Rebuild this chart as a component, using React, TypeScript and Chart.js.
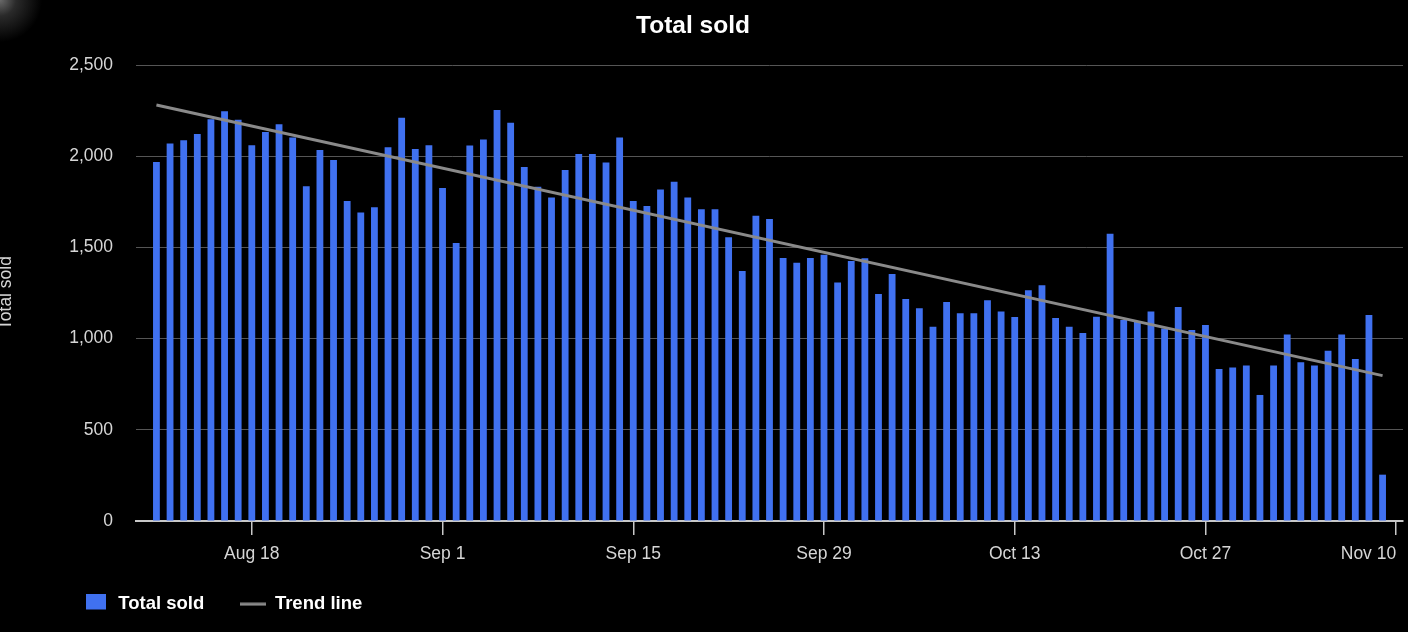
import React, { useEffect, useRef } from "react";
import { Chart, registerables } from "chart.js";

Chart.register(...registerables);

// Every day shown on the category axis (Aug 10 and Nov 10 have no bar)
const CATEGORIES = [
  "Aug 10", "Aug 11", "Aug 12", "Aug 13", "Aug 14", "Aug 15", "Aug 16", "Aug 17", "Aug 18", "Aug 19", "Aug 20",
  "Aug 21", "Aug 22", "Aug 23", "Aug 24", "Aug 25", "Aug 26", "Aug 27", "Aug 28", "Aug 29", "Aug 30", "Aug 31",
  "Sep 1", "Sep 2", "Sep 3", "Sep 4", "Sep 5", "Sep 6", "Sep 7", "Sep 8", "Sep 9", "Sep 10",
  "Sep 11", "Sep 12", "Sep 13", "Sep 14", "Sep 15", "Sep 16", "Sep 17", "Sep 18", "Sep 19", "Sep 20",
  "Sep 21", "Sep 22", "Sep 23", "Sep 24", "Sep 25", "Sep 26", "Sep 27", "Sep 28", "Sep 29", "Sep 30",
  "Oct 1", "Oct 2", "Oct 3", "Oct 4", "Oct 5", "Oct 6", "Oct 7", "Oct 8", "Oct 9", "Oct 10",
  "Oct 11", "Oct 12", "Oct 13", "Oct 14", "Oct 15", "Oct 16", "Oct 17", "Oct 18", "Oct 19", "Oct 20",
  "Oct 21", "Oct 22", "Oct 23", "Oct 24", "Oct 25", "Oct 26", "Oct 27", "Oct 28", "Oct 29", "Oct 30", "Oct 31",
  "Nov 1", "Nov 2", "Nov 3", "Nov 4", "Nov 5", "Nov 6", "Nov 7", "Nov 8", "Nov 9", "Nov 10",
];

const TICK_LABELS = ["Aug 18", "Sep 1", "Sep 15", "Sep 29", "Oct 13", "Oct 27", "Nov 10"];

// Daily totals, Aug 11 .. Nov 9
const FIRST_DAY = "Aug 11";
const TOTAL_SOLD = [
  // Aug 11 - Aug 31
  1968, 2069, 2087, 2122, 2202, 2246, 2200, 2060, 2133, 2175, 2103, 1835, 2034, 1979, 1754, 1692, 1720, 2049, 2211, 2039, 2060,
  // Sep 1 - Sep 30
  1826, 1524, 2058, 2092, 2253, 2184, 1941, 1833, 1773, 1924, 2012, 2012, 1966, 2102, 1754, 1727, 1817, 1860, 1773, 1709,
  1709, 1555, 1371, 1674, 1656, 1442, 1416, 1442, 1460, 1308,
  // Oct 1 - Oct 31
  1425, 1440, 1245, 1354, 1217, 1166, 1065, 1201, 1139, 1139, 1210, 1149, 1118, 1265, 1292, 1113, 1065, 1031, 1120, 1575,
  1102, 1093, 1148, 1056, 1173, 1047, 1075, 833, 842, 853, 691,
  // Nov 1 - Nov 9
  853, 1023, 870, 852, 934, 1023, 888, 1129, 254,
];

// Trend line end points
const TREND_DAYS = ["Aug 11", "Nov 9"];
const TREND_VALUES = [2281, 797];

const Y_MIN = 0;
const Y_MAX = 2500;
const Y_STEP = 500;

const BAR_COLOR = "#4071F0";
const LINE_COLOR = "#8a8a8a";

export default function App() {
  const canvasRef = useRef<HTMLCanvasElement | null>(null);

  useEffect(() => {
    document.body.style.margin = "0";
    document.body.style.background = "#000";
    const canvas = canvasRef.current;
    if (!canvas) return;

    Chart.defaults.font.family = '"Liberation Sans", Arial, Helvetica, sans-serif';

    const offset = CATEGORIES.indexOf(FIRST_DAY);
    const barData = CATEGORIES.map((_, i) => {
      const v = TOTAL_SOLD[i - offset];
      return v === undefined ? null : v;
    });
    const trendData = CATEGORIES.map((c) => {
      const k = TREND_DAYS.indexOf(c);
      return k >= 0 ? TREND_VALUES[k] : null;
    });

    const sq = document.createElement("canvas");
    sq.width = 20;
    sq.height = 20;
    const g1 = sq.getContext("2d")!;
    g1.fillStyle = BAR_COLOR;
    g1.fillRect(0, 0, 20, 20);

    const ln = document.createElement("canvas");
    ln.width = 26;
    ln.height = 4;
    const g2 = ln.getContext("2d")!;
    g2.fillStyle = LINE_COLOR;
    g2.fillRect(0, 0.5, 26, 3);

    const isTicked = (i: number) => TICK_LABELS.includes(CATEGORIES[i]);

    const placeBoxes = {
      id: "placeBoxes",
      afterLayout(chart: any) {
        const t = chart.titleBlock;
        if (t) {
          const w = t.right - t.left;
          t.left = 693 - w / 2;
          t.right = 693 + w / 2;
        }
        const l = chart.legend;
        if (l) {
          const h = l.bottom - l.top;
          l.left = 47.6;
          l.right = 47.6 + 1300;
          l.top = 559.5;
          l.bottom = 559.5 + h;
        }
      },
    };

    const chart = new Chart(canvas, {
      type: "bar",
      data: {
        labels: CATEGORIES,
        datasets: [
          {
            type: "bar",
            label: "Total sold",
            data: barData,
            backgroundColor: BAR_COLOR,
            barPercentage: 0.5,
            categoryPercentage: 1.0,
            order: 1,
          },
          {
            type: "line",
            label: "Trend line",
            data: trendData,
            borderColor: LINE_COLOR,
            backgroundColor: LINE_COLOR,
            borderWidth: 3,
            pointRadius: 0,
            pointHoverRadius: 0,
            spanGaps: true,
            fill: false,
            order: 0,
          },
        ],
      } as any,
      options: {
        animation: false,
        responsive: false,
        maintainAspectRatio: false,
        layout: { padding: { left: 0, right: 5, top: 0, bottom: 0 } },
        plugins: {
          tooltip: { enabled: false },
          title: {
            display: true,
            text: "Total sold",
            color: "#ffffff",
            font: { size: 24.5, weight: "bold" },
            padding: { top: 11.5, bottom: 24.1 },
          },
          legend: {
            display: true,
            position: "bottom",
            align: "start",
            maxHeight: 50,
            labels: {
              color: "#ffffff",
              font: { size: 18.5, weight: "bold" },
              padding: 35.4,
              usePointStyle: true,
              pointStyleWidth: 26,
              generateLabels: (c: any) => {
                const items = (Chart.defaults.plugins.legend.labels as any).generateLabels(c);
                items.sort((a: any, b: any) => a.datasetIndex - b.datasetIndex);
                items.forEach((it: any) => {
                  it.pointStyle = it.datasetIndex === 0 ? sq : ln;
                });
                return items;
              },
            },
          },
        },
        scales: {
          x: {
            type: "category",
            offset: true,
            grid: {
              display: true,
              drawOnChartArea: false,
              drawTicks: true,
              tickLength: 14,
              offset: false,
              lineWidth: 1.5,
              color: (ctx: any) => (ctx.tick && ctx.tick.label ? "#c8c8c8" : "rgba(0,0,0,0)"),
            },
            border: { display: true, color: "#c8c8c8", width: 2 },
            ticks: {
              autoSkip: false,
              maxRotation: 0,
              minRotation: 0,
              align: "inner",
              padding: 8.5,
              color: "#d6d6d6",
              font: { size: 17.5 },
              callback: (_v: any, i: number) => (isTicked(i) ? CATEGORIES[i] : i === 0 ? "" : null),
            },
            afterFit: (s: any) => {
              s.height = 61;
            },
          },
          y: {
            min: Y_MIN,
            max: Y_MAX,
            grid: { color: "#555555", lineWidth: 1, drawTicks: false },
            border: { display: false },
            ticks: {
              stepSize: Y_STEP,
              padding: 23,
              color: "#d6d6d6",
              font: { size: 17.5 },
              callback: (v: any) => Number(v).toLocaleString("en-US"),
            },
            title: {
              display: true,
              text: "Total sold",
              color: "#d6d6d6",
              font: { size: 17.5, lineHeight: 0.75 },
              padding: 0,
            },
            afterFit: (s: any) => {
              s.width = 136;
            },
          },
        },
      } as any,
      plugins: [placeBoxes],
    });

    return () => {
      chart.destroy();
    };
  }, []);

  return (
    <div
      style={{
        width: 1408,
        height: 632,
        position: "relative",
        background: "radial-gradient(circle at 0px 0px, #6a6a6a 0px, #2a2a2a 16px, #000 42px)",
      }}
    >
      <canvas ref={canvasRef} width={1408} height={632} style={{ display: "block", width: 1408, height: 632 }} />
    </div>
  );
}
